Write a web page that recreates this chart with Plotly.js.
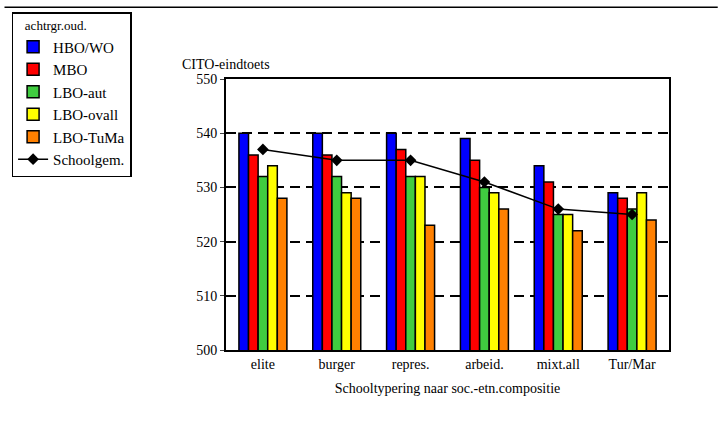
<!DOCTYPE html>
<html>
<head>
<script src="https://cdn.plot.ly/plotly-3.0.1.min.js"></script>
<style>body{margin:0;background:#fff}</style>
</head>
<body>
<div id="chart" style="width:718px;height:432px"></div>
<script>
var categories = ["elite", "burger", "repres.", "arbeid.", "mixt.all", "Tur/Mar"];
var hboWo = [540, 540, 540, 539, 534, 529];
var mbo = [536, 536, 537, 535, 531, 528];
var lboAut = [532, 532, 532, 530, 525, 526];
var lboOvall = [534, 529, 532, 529, 525, 529];
var lboTuMa = [528, 528, 523, 526, 522, 524];
var schoolGem = [537, 535, 535, 531, 526, 525];

var names = ["HBO/WO", "MBO", "LBO-aut", "LBO-ovall", "LBO-TuMa"];
var series = [hboWo, mbo, lboAut, lboOvall, lboTuMa];
var colors = ["#0000ff", "#ff0000", "#40cc40", "#ffff00", "#ff8000"];

var data = [];
for (var i = 0; i < series.length; i++) {
    data.push({
        type: "bar",
        x: categories,
        y: series[i],
        name: names[i],
        marker: {color: colors[i], line: {color: "#000", width: 1.5}}
    });
}
data.push({
    type: "scatter",
    mode: "lines+markers",
    x: categories,
    y: schoolGem,
    name: "Schoolgem.",
    line: {color: "#000", width: 1.5},
    marker: {symbol: "diamond", size: 9, color: "#000"}
});

var layout = {
    width: 718,
    height: 432,
    margin: {l: 223, r: 49, t: 75, b: 82},
    font: {family: "Liberation Serif", size: 14, color: "#000"},
    barmode: "group",
    bargap: 0.35,
    bargroupgap: 0,
    showlegend: true,
    legend: {
        x: -0.484, y: 1.247, xanchor: "left", yanchor: "top",
        bordercolor: "#000", borderwidth: 1.5,
        title: {text: "   achtrgr.oud.", font: {size: 13, family: "Liberation Serif"}},
        font: {size: 15},
        itemwidth: 30,
        tracegroupgap: 0
    },
    xaxis: {
        showline: true, mirror: true, linecolor: "#000", linewidth: 2,
        ticks: "", tickfont: {size: 14},
        title: {text: "Schooltypering naar soc.-etn.compositie", font: {size: 14}, standoff: 12}
    },
    yaxis: {
        range: [500, 550], dtick: 10,
        showline: true, mirror: true, linecolor: "#000", linewidth: 2,
        gridcolor: "#000", griddash: "10px,6px", gridwidth: 2,
        ticks: "outside", ticklen: 4, tickfont: {size: 14}
    },
    annotations: [{
        text: "CITO-eindtoets", xref: "paper", yref: "paper",
        x: 0, y: 1.02, xanchor: "center", yanchor: "bottom",
        showarrow: false, font: {size: 14}
    }],
    shapes: [{
        type: "line", xref: "paper", yref: "paper",
        x0: -0.5, x1: 1.11, y0: 1.265, y1: 1.265,
        line: {color: "#000", width: 1.5}
    }]
};

Plotly.newPlot("chart", data, layout, {displayModeBar: false});
</script>
</body>
</html>
